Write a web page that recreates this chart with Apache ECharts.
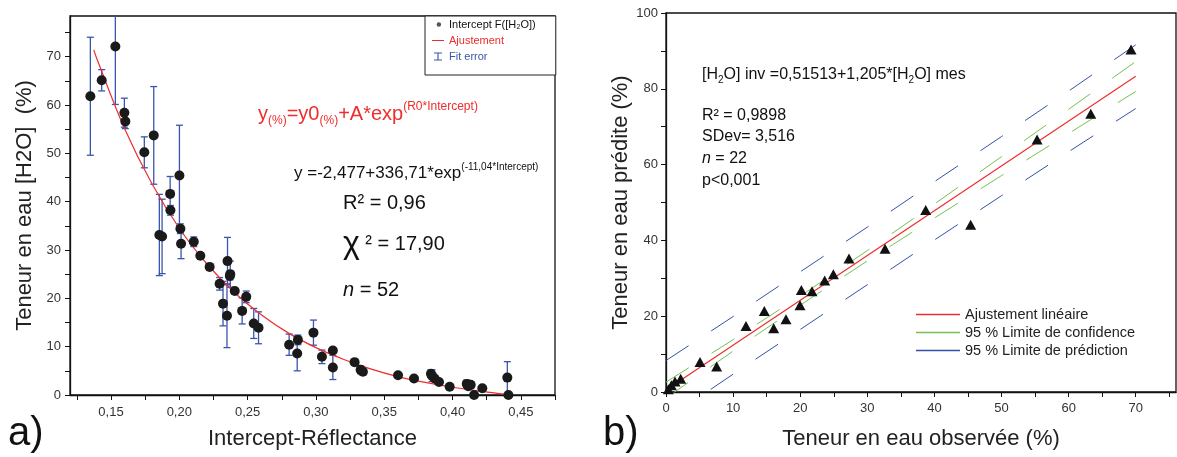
<!DOCTYPE html>
<html><head><meta charset="utf-8">
<script src="https://cdn.jsdelivr.net/npm/echarts@6/dist/echarts.min.js"></script>
<style>html,body{margin:0;padding:0;background:#fff}#c{width:1177px;height:457px}</style>
</head><body><div id="c"></div>
<script>
// ---------- Panel a) ----------
const interceptX = [0.1349,0.1432,0.1532,0.1598,0.1605,0.1744,0.1813,0.2001,0.1933,0.1935,0.1854,0.1874,0.2008,0.2013,0.2106,0.2154,0.2222,0.2295,0.2320,0.2349,0.2353,0.2373,0.2406,0.2490,0.2460,0.2545,0.2580,0.2804,0.2868,0.2863,0.2982,0.3044,0.3124,0.3124,0.3283,0.3327,0.3344,0.3601,0.3718,0.3850,0.3869,0.3901,0.3979,0.4104,0.4133,0.4158,0.4218,0.4401,0.4409,0.4115,0.3842,0.2370];
const waterA = [61.8,65.1,72.1,58.4,56.6,50.2,53.7,45.4,41.6,38.2,33.1,32.8,34.4,31.3,31.7,28.8,26.5,23.0,18.9,16.4,27.7,25.0,21.5,20.3,17.4,14.8,13.9,10.4,11.4,8.6,12.9,7.9,9.2,5.7,6.8,5.2,4.8,4.1,3.4,4.0,3.4,2.7,1.7,2.3,2.1,0.0,1.4,3.6,0.0,1.8,4.4,24.6];
const fitError = [12.2,2.2,12.0,3.0,1.5,3.2,10.1,10.4,3.6,1.0,8.4,7.7,1.0,3.1,1.0,0.5,0.6,1.3,4.6,6.6,4.9,2.7,0.6,1.2,2.7,3.1,3.3,2.2,1.0,3.6,2.6,1.4,0.6,2.5,0.4,0.8,0.6,0.4,0.4,1.2,0.6,0.5,0.4,0.8,0.6,0.3,0.5,3.3,0.3,0.5,0.8,0.8];
const fitCurveX = [0.1374,0.14,0.16,0.18,0.20,0.22,0.24,0.26,0.28,0.30,0.32,0.34,0.36,0.38,0.40,0.42,0.44];
const fitCurveY = [71.4,69.3,55.1,43.7,34.5,27.2,21.3,16.6,12.8,9.8,7.4,5.4,3.8,2.6,1.6,0.8,0.1];
const xLabelsA = [0.15,0.20,0.25,0.30,0.35,0.40,0.45];
const xTicksA = [0.125,0.15,0.175,0.20,0.225,0.25,0.275,0.30,0.325,0.35,0.375,0.40,0.425,0.45,0.475];
const yLabelsA = [0,10,20,30,40,50,60,70];
const yTicksA = [0,5,10,15,20,25,30,35,40,45,50,55,60,65,70,75];

// ---------- Panel b) ----------
const observed = [0.35,0.8,1.34,2.19,5.07,7.55,11.92,14.65,16.05,17.88,19.97,20.17,21.76,23.65,24.94,27.27,32.64,38.7,45.4,55.3,63.3,69.3];
const predicted = [0.7,1.8,2.8,3.5,7.9,6.7,17.4,21.4,16.8,19.2,22.9,26.9,26.6,29.4,31.1,35.2,37.8,48.0,44.1,66.6,73.4,90.4];
const fitLineX = [0,70];
const fitLineY = [0.5,83.3];
const bandX = [0,10,20,30,40,50,60,70];
const confUpper = [2.6,13.8,25.3,37.3,49.6,62.1,74.6,87.2];
const confLower = [-1.6,10.8,22.9,34.6,45.9,57.1,68.2,79.3];
const predUpper = [8.3,19.9,31.7,43.5,55.5,67.4,79.4,91.6];
const predLower = [-7.3,4.7,16.5,28.3,40.1,51.8,63.4,74.8];
const xLabelsB = [0,10,20,30,40,50,60,70];
const xTicksB = [0,5,10,15,20,25,30,35,40,45,50,55,60,65,70,75];
const yLabelsB = [0,20,40,60,80,100];
const yTicksB = [0,10,20,30,40,50,60,70,80,90,100];

const FONT = '"Liberation Sans", Arial, sans-serif';
const RED = '#ee2d2d', BLUE = '#3a55ad', GREEN = '#74c052', PBLUE = '#3650a6';
const LINE_ICON = 'path://M0,0L0.01,0M0,4.4H15V5.6H0ZM0,10L0.01,10';
const pairs = (xs, ys) => xs.map((x, i) => [x, ys[i]]);

const chart = echarts.init(document.getElementById('c'), null, {renderer: 'canvas'});

const axisBase = {
  type: 'value',
  axisLine: {show: true, onZero: false, lineStyle: {color: '#111', width: 1.3}},
  splitLine: {show: false},
  axisTick: {show: true, inside: false, length: 5, lineStyle: {color: '#111', width: 1}},
  nameTextStyle: {fontFamily: FONT, fontSize: 22, color: '#222'},
  nameLocation: 'middle'
};

const errData = interceptX.map((x, i) => [x, waterA[i] - fitError[i], waterA[i] + fitError[i]]);

const option = {
  animation: false,
  textStyle: {fontFamily: FONT},
  grid: [
    {left: 70, top: 16, width: 485, height: 379, show: true, borderColor: '#111', borderWidth: 1.3, backgroundColor: 'transparent'},
    {left: 666, top: 13, width: 510, height: 379, show: true, borderColor: '#111', borderWidth: 1.3, backgroundColor: 'transparent'}
  ],
  xAxis: [
    Object.assign({}, axisBase, {gridIndex: 0, min: 0.12, max: 0.475, name: 'Intercept-Réflectance', nameGap: 33,
      axisLabel: {customValues: xLabelsA, formatter: v => v.toFixed(2).replace('.', ','), fontSize: 13, color: '#333', margin: 11, fontFamily: FONT},
      axisTick: Object.assign({}, axisBase.axisTick, {customValues: xTicksA})}),
    Object.assign({}, axisBase, {gridIndex: 1, min: 0, max: 76, name: 'Teneur en eau observée (%)', nameGap: 36,
      axisLabel: {customValues: xLabelsB, fontSize: 13, color: '#333', margin: 10, fontFamily: FONT},
      axisTick: Object.assign({}, axisBase.axisTick, {customValues: xTicksB})})
  ],
  yAxis: [
    Object.assign({}, axisBase, {gridIndex: 0, min: 0, max: 78.4, name: 'Teneur en eau [H2O]  (%)', nameGap: 34,
      axisLabel: {customValues: yLabelsA, fontSize: 13, color: '#333', margin: 9, fontFamily: FONT},
      axisTick: Object.assign({}, axisBase.axisTick, {customValues: yTicksA})}),
    Object.assign({}, axisBase, {gridIndex: 1, min: 0, max: 100, name: 'Teneur en eau prédite (%)', nameGap: 34,
      axisLabel: {customValues: yLabelsB, fontSize: 13, color: '#333', margin: 8, fontFamily: FONT},
      axisTick: Object.assign({}, axisBase.axisTick, {customValues: yTicksB})})
  ],
  legend: [
    {
      orient: 'vertical', left: 425, top: 16, padding: [3, 20, 13, 7],
      itemWidth: 12, itemHeight: 8, itemGap: 5,
      borderColor: '#222', borderWidth: 1, backgroundColor: '#fff',
      textStyle: {fontSize: 11, fontFamily: FONT, color: '#111'},
      data: [
        {name: 'Intercept F([H₂O])', icon: 'path://M0,0L0.01,0M5,2.2A2.8,2.8,0,1,1,4.99,2.2ZM0,10L0.01,10', itemStyle: {color: '#555', borderWidth: 0}},
        {name: 'Ajustement', icon: LINE_ICON, textStyle: {color: RED}},
        {name: 'Fit error', icon: 'path://M0,0H10V1.4H5.7V8.6H10V10H0V8.6H4.3V1.4H0Z', textStyle: {color: BLUE}}
      ]
    },
    {
      orient: 'vertical', left: 916, top: 307, padding: 0, itemGap: 3,
      itemWidth: 44, itemHeight: 1.5,
      textStyle: {fontSize: 14.5, fontFamily: FONT, color: '#222'},
      data: [
        {name: 'Ajustement linéaire', icon: 'rect'},
        {name: '95 % Limite de confidence', icon: 'rect'},
        {name: '95 % Limite de prédiction', icon: 'rect'}
      ]
    }
  ],
  series: [
    {
      name: 'Fit error', type: 'custom', xAxisIndex: 0, yAxisIndex: 0, z: 2,
      itemStyle: {color: BLUE},
      data: errData,
      renderItem: function (params, api) {
        const x = api.value(0), lo = api.value(1), hi = api.value(2);
        const p1 = api.coord([x, hi]), p2 = api.coord([x, lo]);
        const cs = params.coordSys;
        const top = Math.max(p1[1], cs.y), bot = Math.min(p2[1], cs.y + cs.height);
        const w = 3.5;
        const st = {stroke: BLUE, lineWidth: 1.3};
        const ch = [{type: 'line', shape: {x1: p1[0], y1: top, x2: p1[0], y2: bot}, style: st}];
        if (p1[1] >= cs.y) ch.push({type: 'line', shape: {x1: p1[0] - w, y1: p1[1], x2: p1[0] + w, y2: p1[1]}, style: st});
        if (p2[1] <= cs.y + cs.height) ch.push({type: 'line', shape: {x1: p2[0] - w, y1: p2[1], x2: p2[0] + w, y2: p2[1]}, style: st});
        return {type: 'group', children: ch};
      }
    },
    {
      name: 'Ajustement', type: 'line', xAxisIndex: 0, yAxisIndex: 0, z: 3,
      data: pairs(fitCurveX, fitCurveY), smooth: 0.4, showSymbol: false, symbol: 'none',
      lineStyle: {color: RED, width: 1.2}, itemStyle: {color: RED}
    },
    {
      name: 'Intercept F([H₂O])', type: 'scatter', xAxisIndex: 0, yAxisIndex: 0, z: 4,
      data: pairs(interceptX, waterA), symbol: 'circle', symbolSize: 10,
      itemStyle: {color: '#1a1a1a', opacity: 1}
    },
    {
      name: '95 % Limite de prédiction', type: 'line', xAxisIndex: 1, yAxisIndex: 1, z: 2,
      data: pairs(bandX, predUpper), showSymbol: false, symbol: 'none',
      lineStyle: {color: PBLUE, width: 1, type: [27, 27]}, itemStyle: {color: PBLUE}
    },
    {
      name: '95 % Limite de prédiction', type: 'line', xAxisIndex: 1, yAxisIndex: 1, z: 2,
      data: pairs(bandX, predLower), showSymbol: false, symbol: 'none',
      lineStyle: {color: PBLUE, width: 1, type: [27, 27]}, itemStyle: {color: PBLUE}
    },
    {
      name: '95 % Limite de confidence', type: 'line', xAxisIndex: 1, yAxisIndex: 1, z: 2,
      data: pairs(bandX, confUpper), showSymbol: false, symbol: 'none',
      lineStyle: {color: GREEN, width: 1, type: [27, 27]}, itemStyle: {color: GREEN}
    },
    {
      name: '95 % Limite de confidence', type: 'line', xAxisIndex: 1, yAxisIndex: 1, z: 2,
      data: pairs(bandX, confLower), showSymbol: false, symbol: 'none',
      lineStyle: {color: GREEN, width: 1, type: [27, 27]}, itemStyle: {color: GREEN}
    },
    {
      name: 'Ajustement linéaire', type: 'line', xAxisIndex: 1, yAxisIndex: 1, z: 3,
      data: pairs(fitLineX, fitLineY), showSymbol: false, symbol: 'none',
      lineStyle: {color: RED, width: 1.2}, itemStyle: {color: RED}
    },
    {
      name: 'Teneur', type: 'scatter', xAxisIndex: 1, yAxisIndex: 1, z: 4,
      data: pairs(observed, predicted), symbol: 'triangle', symbolSize: [11, 10],
      itemStyle: {color: '#111', opacity: 1}
    }
  ],
  graphic: [
    {type: 'text', left: 258, top: 101, z: 10, style: {
      text: '{m|y}{s|(%)}{m|=y0}{s|(%)}{m|+A*exp}{u|(R0*Intercept)}',
      rich: {
        m: {fontSize: 20, lineHeight: 26, fill: RED, fontFamily: FONT},
        s: {fontSize: 12, lineHeight: 14, verticalAlign: 'bottom', fill: RED, fontFamily: FONT},
        u: {fontSize: 12, lineHeight: 14, verticalAlign: 'top', fill: RED, fontFamily: FONT}
      }}},
    {type: 'text', left: 294, top: 162, z: 10, style: {
      text: '{m|y =-2,477+336,71*exp}{u|(-11,04*Intercept)}',
      rich: {
        m: {fontSize: 17, lineHeight: 22, fill: '#111', fontFamily: FONT},
        u: {fontSize: 10, lineHeight: 12, verticalAlign: 'top', fill: '#111', fontFamily: FONT}
      }}},
    {type: 'text', left: 343, top: 193, z: 10, style: {text: 'R² = 0,96', fontSize: 20, fill: '#111', fontFamily: FONT}},
    {type: 'text', left: 343, top: 228, z: 10, style: {
      text: '{c|χ}{m| ² = 17,90}',
      rich: {
        c: {fontSize: 32, lineHeight: 34, fill: '#111', fontFamily: FONT},
        m: {fontSize: 20, lineHeight: 34, fill: '#111', fontFamily: FONT}
      }}},
    {type: 'text', left: 343, top: 280, z: 10, style: {
      text: '{i|n}{m| = 52}',
      rich: {
        i: {fontSize: 20, fontStyle: 'italic', fill: '#111', fontFamily: FONT},
        m: {fontSize: 20, fill: '#111', fontFamily: FONT}
      }}},
    {type: 'text', left: 8, top: 414, z: 10, style: {text: 'a)', fontSize: 40, fill: '#111', fontFamily: FONT}},
    {type: 'text', left: 603, top: 414, z: 10, style: {text: 'b)', fontSize: 40, fill: '#111', fontFamily: FONT}},
    {type: 'text', left: 702, top: 67, z: 10, style: {
      text: '{m|[H}{s|2}{m|O] inv =0,51513+1,205*[H}{s|2}{m|O] mes}',
      rich: {
        m: {fontSize: 16, lineHeight: 20, fill: '#111', fontFamily: FONT},
        s: {fontSize: 10, lineHeight: 10, verticalAlign: 'bottom', fill: '#111', fontFamily: FONT}
      }}},
    {type: 'text', left: 702, top: 108, z: 10, style: {text: 'R² = 0,9898', fontSize: 16, fill: '#111', fontFamily: FONT}},
    {type: 'text', left: 702, top: 129, z: 10, style: {text: 'SDev= 3,516', fontSize: 16, fill: '#111', fontFamily: FONT}},
    {type: 'text', left: 702, top: 151, z: 10, style: {
      text: '{i|n}{m| = 22}',
      rich: {
        i: {fontSize: 16, fontStyle: 'italic', fill: '#111', fontFamily: FONT},
        m: {fontSize: 16, fill: '#111', fontFamily: FONT}
      }}},
    {type: 'text', left: 702, top: 173, z: 10, style: {text: 'p<0,001', fontSize: 16, fill: '#111', fontFamily: FONT}}
  ]
};
chart.setOption(option);
</script>
</body></html>
